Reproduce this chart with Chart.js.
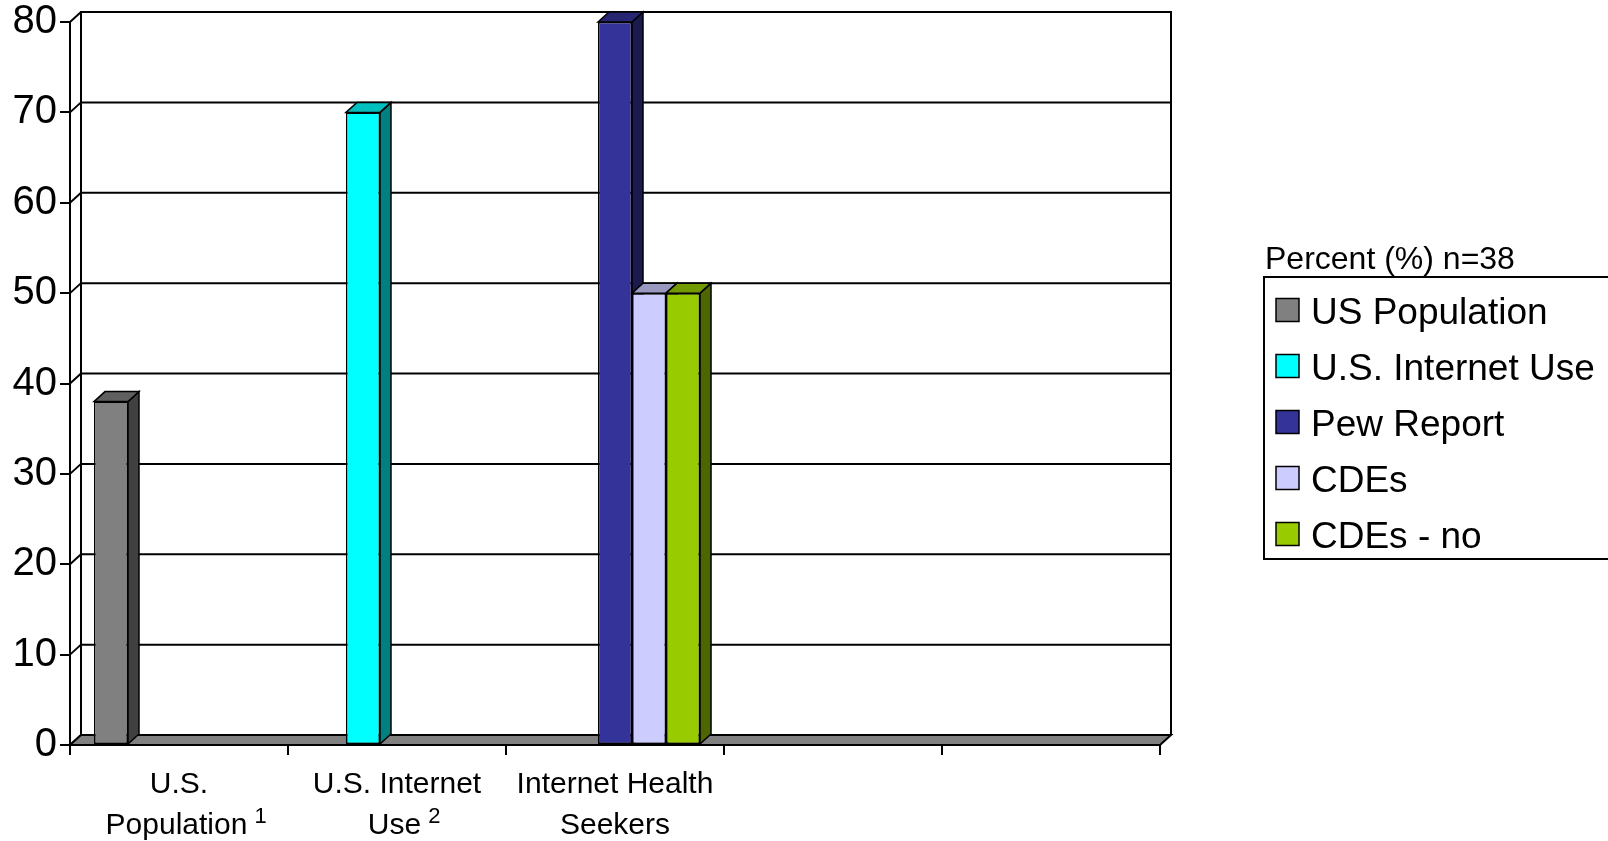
<!DOCTYPE html>
<html>
<head>
<meta charset="utf-8">
<script src="https://cdn.jsdelivr.net/npm/chart.js@4.4.0/dist/chart.umd.min.js"></script>
<style>
  html, body { margin: 0; padding: 0; background: #fff; overflow: hidden; }
  canvas { display: block; }
</style>
</head>
<body>
<canvas id="c" width="1608" height="841"></canvas>
<script>
// Category labels (multi-line), two trailing empty slots
const categories = [['U.S.', 'Population'], ['U.S. Internet', 'Use'], ['Internet Health', 'Seekers'], '', ''];
// Footnote numbers printed as superscripts after the last label line
const footnotes = ['1', '2', '', '', ''];

// Series names and values (percent)
const seriesNames = ['US Population', 'U.S. Internet Use', 'Pew Report', 'CDEs', 'CDEs - no'];
const usPopulation  = [38, null, null, null, null];
const usInternetUse = [null, 70, null, null, null];
const pewReport     = [null, null, 80, null, null];
const cdes          = [null, null, 50, null, null];
const cdesNo        = [null, null, 50, null, null];
const seriesColors  = ['#808080', '#00FFFF', '#333399', '#CCCCFF', '#99CC00'];

// Value axis
const yMin = 0, yMax = 80, yStep = 10;
const legendTitle = 'Percent (%) n=38';

const FONT = "'Liberation Sans', Arial, Helvetica, sans-serif";
const DX = 11, DY = 10;   // depth offset of the 3-D box

function shade(hex, f) {
  const n = parseInt(hex.slice(1), 16);
  const r = Math.round(((n >> 16) & 255) * f);
  const g = Math.round(((n >> 8) & 255) * f);
  const b = Math.round((n & 255) * f);
  return `rgb(${r},${g},${b})`;
}

function poly(ctx, pts, fill) {
  ctx.beginPath();
  ctx.moveTo(pts[0][0], pts[0][1]);
  for (let i = 1; i < pts.length; i++) ctx.lineTo(pts[i][0], pts[i][1]);
  ctx.closePath();
  if (fill) { ctx.fillStyle = fill; ctx.fill(); }
  ctx.stroke();
}

// Back wall, side wall, floor and the depth faces of each column
const boxPlugin = {
  id: 'box3d',
  beforeDatasetsDraw(chart) {
    const ctx = chart.ctx;
    const { left: L, right: R, top: T, bottom: B } = chart.chartArea;
    const y = chart.scales.y;
    ctx.save();
    ctx.strokeStyle = '#000';
    ctx.lineWidth = 2;
    ctx.lineJoin = 'miter';

    // back wall outline
    ctx.beginPath();
    ctx.moveTo(L + DX, B - DY);
    ctx.lineTo(L + DX, T - DY);
    ctx.lineTo(R + DX, T - DY);
    ctx.lineTo(R + DX, B - DY);
    ctx.stroke();

    // gridlines running along the side wall and the back wall
    for (let v = yMin; v <= yMax; v += yStep) {
      const yf = y.getPixelForValue(v);
      ctx.beginPath();
      ctx.moveTo(L, yf);
      ctx.lineTo(L + DX, yf - DY);
      ctx.lineTo(R + DX, yf - DY);
      ctx.stroke();
    }

    // floor slab
    poly(ctx, [[L, B], [R, B], [R + DX, B - DY], [L + DX, B - DY]], '#808080');

    // column sides and tops, painted left to right
    const bars = [];
    chart.data.datasets.forEach((ds, di) => {
      const meta = chart.getDatasetMeta(di);
      meta.data.forEach((el, i) => {
        if (ds.data[i] == null) return;
        const p = el.getProps(['x', 'y', 'base', 'width'], true);
        bars.push({ p, color: ds.backgroundColor });
      });
    });
    bars.sort((a, b) => a.p.x - b.p.x);
    ctx.lineWidth = 1.5;
    bars.forEach(({ p, color }) => {
      const xl = p.x - p.width / 2, xr = p.x + p.width / 2;
      poly(ctx, [[xr, p.y], [xr + DX, p.y - DY], [xr + DX, p.base - DY], [xr, p.base]], shade(color, 0.5));
      poly(ctx, [[xl, p.y], [xl + DX, p.y - DY], [xr + DX, p.y - DY], [xr, p.y]], shade(color, 0.75));
    });
    ctx.restore();
  },
  afterDraw(chart) {
    const ctx = chart.ctx;
    const xs = chart.scales.x;
    ctx.save();
    ctx.fillStyle = '#000';
    ctx.textBaseline = 'alphabetic';

    // category labels with superscript footnote numbers
    const mainFont = `30px ${FONT}`, supFont = `22px ${FONT}`;
    const baselines = [793, 834];
    categories.forEach((cat, i) => {
      if (!cat) return;
      const cx = xs.getPixelForValue(i);
      const lines = Array.isArray(cat) ? cat : [cat];
      lines.forEach((line, li) => {
        const last = li === lines.length - 1;
        ctx.font = mainFont;
        const w = ctx.measureText(line).width;
        if (last && footnotes[i]) {
          const x0 = cx - (w + 5) / 2;
          ctx.textAlign = 'left';
          ctx.fillText(line, x0, baselines[li]);
          ctx.font = supFont;
          ctx.fillText(footnotes[i], x0 + w + 7, baselines[li] - 11);
        } else {
          ctx.textAlign = 'center';
          ctx.fillText(line, cx, baselines[li]);
        }
      });
    });

    // legend with title
    ctx.textAlign = 'left';
    ctx.font = `32px ${FONT}`;
    ctx.fillText(legendTitle, 1265, 269);

    ctx.strokeStyle = '#000';
    ctx.lineWidth = 2;
    ctx.strokeRect(1264, 277, 360, 282);

    ctx.font = `37px ${FONT}`;
    const rowCenters = [310, 366, 422, 478, 534];
    chart.data.datasets.forEach((ds, i) => {
      const cy = rowCenters[i];
      ctx.fillStyle = ds.backgroundColor;
      ctx.fillRect(1276, cy - 11.5, 23, 23);
      ctx.lineWidth = 1.5;
      ctx.strokeRect(1276, cy - 11.5, 23, 23);
      ctx.fillStyle = '#000';
      ctx.fillText(ds.label, 1311, cy + 13.5);
    });
    ctx.restore();
  }
};

const seriesValues = [usPopulation, usInternetUse, pewReport, cdes, cdesNo];

new Chart(document.getElementById('c'), {
  type: 'bar',
  data: {
    labels: categories,
    datasets: seriesValues.map((vals, i) => ({
      label: seriesNames[i],
      data: vals,
      backgroundColor: seriesColors[i],
      borderColor: '#000',
      borderWidth: 1.5,
      borderSkipped: false,
      categoryPercentage: 0.78,
      barPercentage: 1.0
    }))
  },
  options: {
    responsive: false,
    animation: false,
    events: [],
    layout: { padding: { top: 22, right: 448, bottom: 0, left: 0 } },
    plugins: {
      legend: { display: false },
      tooltip: { enabled: false }
    },
    scales: {
      x: {
        offset: true,
        afterFit: (s) => { s.height = 96; s.paddingLeft = 0; s.paddingRight = 0; },
        grid: {
          offset: true,
          drawOnChartArea: false,
          drawTicks: true,
          tickLength: 10,
          color: '#000',
          lineWidth: 2
        },
        border: { display: true, color: '#000', width: 2 },
        ticks: { display: false, autoSkip: false, maxRotation: 0 }
      },
      y: {
        min: yMin,
        max: yMax,
        afterFit: (s) => { s.width = 70; s.paddingTop = 0; s.paddingBottom = 0; },
        grid: {
          drawOnChartArea: false,
          drawTicks: true,
          tickLength: 10,
          color: '#000',
          lineWidth: 2
        },
        border: { display: true, color: '#000', width: 2 },
        ticks: {
          stepSize: yStep,
          color: '#000',
          font: { family: FONT, size: 40 },
          padding: 3
        }
      }
    }
  },
  plugins: [boxPlugin]
});
</script>
</body>
</html>
